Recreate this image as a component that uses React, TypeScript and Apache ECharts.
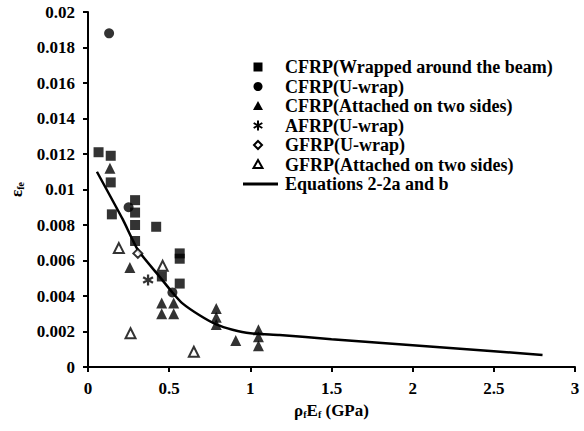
import React, { useEffect, useRef } from "react";
import * as echarts from "echarts";

const xTicks = [0, 0.5, 1, 1.5, 2, 2.5, 3];
const yTicks = [0, 0.002, 0.004, 0.006, 0.008, 0.01, 0.012, 0.014, 0.016, 0.018, 0.02];

const cfrpWrapped = [
  [0.065, 0.0121], [0.14, 0.0119], [0.14, 0.0104], [0.147, 0.0086],
  [0.29, 0.0094], [0.29, 0.0087], [0.29, 0.008], [0.29, 0.0071],
  [0.42, 0.0079], [0.455, 0.0051], [0.565, 0.0064], [0.565, 0.0061], [0.565, 0.0047],
];
const cfrpUwrap = [[0.13, 0.0188], [0.25, 0.009], [0.52, 0.0042]];
const cfrpTwoSides = [
  [0.135, 0.0112], [0.258, 0.0056], [0.454, 0.0036], [0.454, 0.003],
  [0.528, 0.0036], [0.528, 0.003], [0.79, 0.0033], [0.79, 0.0028], [0.79, 0.0024],
  [0.91, 0.0015], [1.05, 0.0021], [1.05, 0.0017], [1.05, 0.0012],
];
const afrpUwrap = [[0.37, 0.0049]];
const gfrpUwrap = [[0.307, 0.0064]];
const gfrpTwoSides = [[0.19, 0.0067], [0.46, 0.0057], [0.262, 0.0019], [0.652, 0.00086]];
const equationLine = [
  [0.055, 0.011], [0.215, 0.0083], [0.307, 0.0066], [0.44, 0.0051], [0.52, 0.0042],
  [0.58, 0.0036], [0.69, 0.0029], [0.79, 0.0024], [0.89, 0.0021], [1.0, 0.0019],
  [1.18, 0.0018], [1.5, 0.00157], [2.0, 0.00123], [2.5, 0.00089], [2.8, 0.00068],
];

const names = [
  "CFRP(Wrapped around the beam)",
  "CFRP(U-wrap)",
  "CFRP(Attached on two sides)",
  "AFRP(U-wrap)",
  "GFRP(U-wrap)",
  "GFRP(Attached on two sides)",
  "Equations 2-2a and b",
];

const starPath =
  "path://M4,0 L6,0 L6,10 L4,10 Z M0.17,3.37 L1.17,1.63 L9.83,6.63 L8.83,8.37 Z M1.17,8.37 L0.17,6.63 L8.83,1.63 L9.83,3.37 Z";

const FONT = "'Liberation Serif', 'Times New Roman', serif";

function legendGraphics() {
  const cx = 258;
  const tx = 285;
  const rows = [67, 86.5, 106, 125.5, 145, 164.5, 184];
  const black = { fill: "#000" };
  const hollow = { fill: "#fff", stroke: "#000", lineWidth: 2 };
  const marks: any[] = [
    { type: "rect", shape: { x: cx - 4.5, y: rows[0] - 4.5, width: 9, height: 9 }, style: black },
    { type: "circle", shape: { cx, cy: rows[1], r: 4.5 }, style: black },
    { type: "polygon", shape: { points: [[cx, rows[2] - 5], [cx + 5, rows[2] + 4], [cx - 5, rows[2] + 4]] }, style: black },
    { type: "line", shape: { x1: cx, y1: rows[3] - 5, x2: cx, y2: rows[3] + 5 }, style: { stroke: "#000", lineWidth: 2 } },
    { type: "line", shape: { x1: cx - 4.3, y1: rows[3] - 2.5, x2: cx + 4.3, y2: rows[3] + 2.5 }, style: { stroke: "#000", lineWidth: 2 } },
    { type: "line", shape: { x1: cx - 4.3, y1: rows[3] + 2.5, x2: cx + 4.3, y2: rows[3] - 2.5 }, style: { stroke: "#000", lineWidth: 2 } },
    { type: "polygon", shape: { points: [[cx, rows[4] - 4], [cx + 4, rows[4]], [cx, rows[4] + 4], [cx - 4, rows[4]]] }, style: hollow },
    { type: "polygon", shape: { points: [[cx, rows[5] - 4.5], [cx + 4.5, rows[5] + 3.5], [cx - 4.5, rows[5] + 3.5]] }, style: hollow },
    { type: "line", shape: { x1: 243, y1: rows[6], x2: 278, y2: rows[6] }, style: { stroke: "#000", lineWidth: 3 } },
  ];
  const texts = names.map((n, i) => ({
    type: "text",
    x: tx,
    y: rows[i],
    style: {
      text: n,
      font: `bold 18px ${FONT}`,
      fill: "#000",
      verticalAlign: "middle",
      textVerticalAlign: "middle",
      align: "left",
    },
  }));
  return [...marks, ...texts];
}

export default function App() {
  const ref = useRef<HTMLDivElement>(null);
  useEffect(() => {
    if (!ref.current) return;
    const chart = echarts.init(ref.current, null, { renderer: "svg" });
    const filled = { color: "#000" };
    const hollow = { color: "#fff", borderColor: "#000", borderWidth: 2 };
    chart.setOption({
      animation: false,
      backgroundColor: "#fff",
      textStyle: { fontFamily: FONT },
      grid: { left: 88, right: 9, top: 12, bottom: 64 },
      graphic: legendGraphics(),
      xAxis: {
        type: "value",
        min: 0,
        max: 3,
        interval: 0.5,
        name: "{a|ρ}{s|f}{a|E}{s|f}{a| (GPa)}",
        nameLocation: "middle",
        nameGap: 32,
        nameTextStyle: {
          rich: {
            a: { fontFamily: FONT, fontSize: 17, fontWeight: "bold", color: "#000" },
            s: { fontFamily: FONT, fontSize: 10, fontWeight: "bold", color: "#000", verticalAlign: "bottom", padding: [8, 0, 0, 0] },
          },
        },
        axisLine: { lineStyle: { color: "#000", width: 2 } },
        axisTick: { inside: false, length: 5, lineStyle: { color: "#000", width: 2 } },
        axisLabel: {
          margin: 13,
          fontFamily: FONT,
          fontSize: 17,
          fontWeight: "bold",
          color: "#000",
          formatter: (v: number) => (xTicks.includes(v) ? String(v) : ""),
        },
        splitLine: { show: false },
      },
      yAxis: {
        type: "value",
        min: 0,
        max: 0.02,
        interval: 0.002,
        name: "{a|ε}{s|fe}",
        nameLocation: "middle",
        nameGap: 62,
        nameTextStyle: {
          rich: {
            a: { fontFamily: FONT, fontSize: 17, fontWeight: "bold", color: "#000" },
            s: { fontFamily: FONT, fontSize: 10, fontWeight: "bold", color: "#000", verticalAlign: "bottom", padding: [8, 0, 0, 0] },
          },
        },
        axisLine: { show: true, lineStyle: { color: "#000", width: 2 } },
        axisTick: { show: true, inside: false, length: 5, lineStyle: { color: "#000", width: 2 } },
        axisLabel: {
          margin: 13,
          fontFamily: FONT,
          fontSize: 17,
          fontWeight: "bold",
          color: "#000",
          formatter: (v: number) => {
            const t = yTicks.find((k) => Math.abs(k - v) < 1e-9);
            return t === undefined ? "" : String(+t.toFixed(3));
          },
        },
        splitLine: { show: false },
      },
      series: [
        { name: names[0], type: "scatter", symbol: "rect", symbolSize: 10, itemStyle: filled, data: cfrpWrapped },
        { name: names[1], type: "scatter", symbol: "circle", symbolSize: 10, itemStyle: filled, data: cfrpUwrap },
        { name: names[2], type: "scatter", symbol: "triangle", symbolSize: 11, itemStyle: filled, data: cfrpTwoSides },
        { name: names[3], type: "scatter", symbol: starPath, symbolSize: 11, itemStyle: filled, data: afrpUwrap },
        { name: names[4], type: "scatter", symbol: "diamond", symbolSize: 9, itemStyle: hollow, data: gfrpUwrap },
        { name: names[5], type: "scatter", symbol: "triangle", symbolSize: 10, itemStyle: hollow, data: gfrpTwoSides },
        {
          name: names[6],
          type: "line",
          smooth: 0.2,
          symbol: "none",
          lineStyle: { color: "#000", width: 2.5 },
          itemStyle: { color: "#000" },
          data: equationLine,
          z: 1,
        },
      ],
    });
    return () => chart.dispose();
  }, []);
  return <div ref={ref} style={{ position: "absolute", left: 0, top: 0, width: 584, height: 431 }} />;
}
